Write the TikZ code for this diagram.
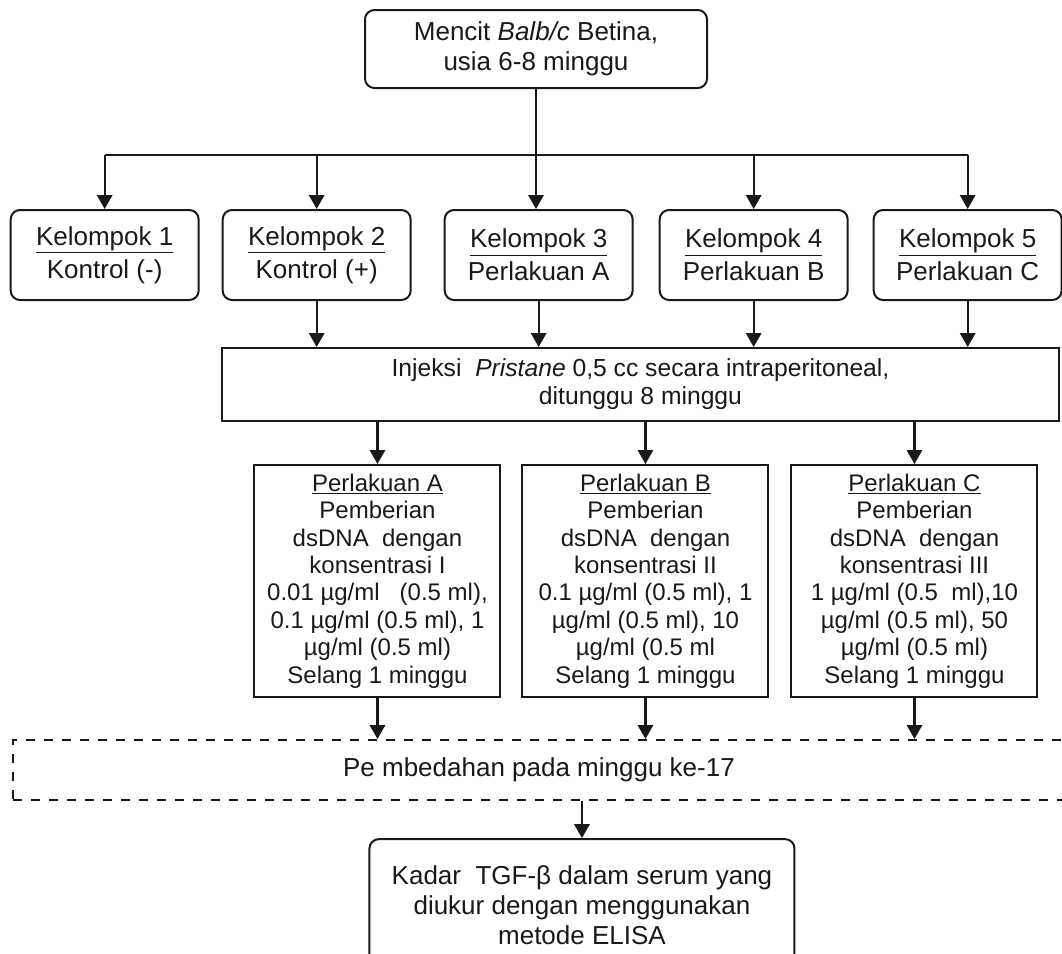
\documentclass[tikz,border=0pt]{standalone}
\usepackage{fontspec}
\setmainfont{Liberation Sans}
\usetikzlibrary{arrows.meta,positioning}
\definecolor{garis}{RGB}{25,25,25}

\begin{document}
\begin{tikzpicture}[x=0.75pt,y=-0.75pt,
  every node/.style={text=garis,align=center,inner sep=0pt},
  kotak/.style={draw=garis,line width=1.5pt,rounded corners=7pt,
    font=\fontsize{19.5}{22.5}\selectfont},
  kel/.style={kotak,minimum width=141pt,minimum height=67.5pt,
    font=\fontsize{19.5}{24.75}\selectfont},
  blok/.style={draw=garis,line width=1.5pt},
  perl/.style={blok,minimum width=184.5pt,minimum height=174pt,
    font=\fontsize{18}{20.6}\selectfont},
  putus/.style={draw=garis,line width=1.6pt,dash pattern=on 7pt off 6.5pt,
    font=\fontsize{19.5}{22.5}\selectfont},
  panah/.style={-{Triangle[length=10.5pt,width=11.5pt]},draw=garis,line width=1.7pt}]
\useasboundingbox (0,0) rectangle (1062,953);
\node[kotak,minimum width=256.5pt,minimum height=58.5pt] (m) at (536,49)
  {Mencit \textit{Balb/c} Betina,\\usia 6-8 minggu};
\node[kel,below=90pt of m,xshift=2pt] (k3) {\underline{Kelompok 3}\\Perlakuan A};
\node[kel,left=24pt of k3] (k2) {\underline{Kelompok 2}\\Kontrol (+)};
\node[kel,left=16.5pt of k2] (k1) {\underline{Kelompok 1}\\Kontrol (-)};
\node[kel,right=18.75pt of k3] (k4) {\underline{Kelompok 4}\\Perlakuan B};
\node[kel,right=18pt of k4] (k5) {\underline{Kelompok 5}\\Perlakuan C};
\coordinate[below=49.5pt of m.south] (bus);
\draw[garis,line width=1.7pt] (bus -| k1) -- (bus -| k5);
\draw[panah] (m) -- (m |- k3.north);
\foreach \k in {k1,k2,k4,k5}
  \draw[panah] (bus -| \k) -- (\k);
% injeksi
\node[blok,font=\fontsize{18.5}{21}\selectfont,minimum width=627.75pt,
  minimum height=54.75pt,below=34.5pt of k3,xshift=76.35pt] (inj)
  {Injeksi \ \textit{Pristane} 0,5 cc secara intraperitoneal,\\ditunggu 8 minggu};
\foreach \k in {k2,k3,k4,k5}
  \draw[panah] (\k) -- (\k |- inj.north);
% perlakuan
\node[perl,below=31.5pt of inj,xshift=3.75pt] (pb)
  {\underline{Perlakuan B}\\Pemberian\\dsDNA \ dengan\\konsentrasi II\\
   0.1 µg/ml (0.5 ml), 1\\µg/ml (0.5 ml), 10\\µg/ml (0.5 ml\\Selang 1 minggu};
\node[perl,left=15pt of pb] (pa)
  {\underline{Perlakuan A}\\Pemberian\\dsDNA \ dengan\\konsentrasi I\\
   0.01 µg/ml \ \ (0.5 ml),\\0.1 µg/ml (0.5 ml), 1\\µg/ml (0.5 ml)\\Selang 1 minggu};
\node[perl,right=15.75pt of pb] (pc)
  {\underline{Perlakuan C}\\Pemberian\\dsDNA \ dengan\\konsentrasi III\\
   1 µg/ml (0.5 \ ml),10\\µg/ml (0.5 ml), 50\\µg/ml (0.5 ml)\\Selang 1 minggu};
\foreach \p in {pa,pb,pc}
  \draw[panah] (\p |- inj.south) -- (\p);
% pembedahan
\node[putus,minimum width=789pt,minimum height=45pt,below=30.75pt of pb,
  xshift=-79.875pt] (bedah) {Pe mbedahan pada minggu ke-17};
\foreach \p in {pa,pb,pc}
  \draw[panah] (\p) -- (\p |- bedah.north);
\node[kotak,minimum width=318.75pt,minimum height=99pt,below=27.75pt of bedah,
  xshift=32.25pt] (kadar)
  {Kadar \ TGF-β dalam serum yang\\diukur dengan menggunakan\\metode ELISA};
\draw[panah] (kadar |- bedah.south) -- (kadar);
\end{tikzpicture}
\end{document}
